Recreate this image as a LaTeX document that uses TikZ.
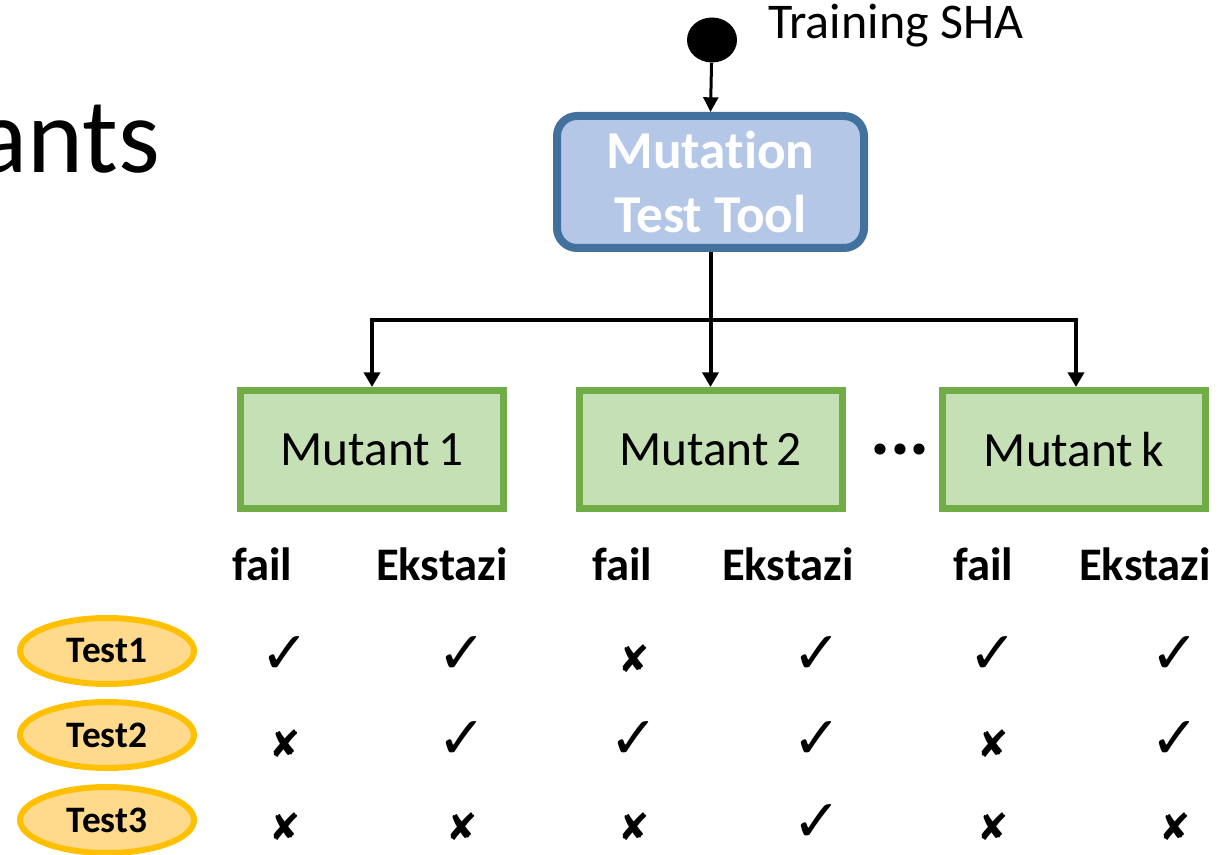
\documentclass[tikz,border=0pt]{standalone}
\usepackage{fontspec}
\setmainfont{Carlito}[Ligatures=NoCommon]
\newfontfamily\symfont{DejaVu Sans}
\usetikzlibrary{arrows.meta,shapes.geometric}

\definecolor{toolfill}{HTML}{B4C7E7}
\definecolor{tooldraw}{HTML}{41719C}
\definecolor{mutfill}{HTML}{C5E0B4}
\definecolor{mutdraw}{HTML}{70AD47}
\definecolor{testfill}{HTML}{FFD98C}
\definecolor{testdraw}{HTML}{FFC000}

\tikzset{
  arr/.style={line width=3pt,-{Triangle[width=12pt,length=11pt]}},
  toolbox/.style={draw=tooldraw,fill=toolfill,line width=6pt,rounded corners=15pt,
    minimum width=307*0.75pt,minimum height=132*0.75pt,align=center,
    font=\fontsize{40}{46}\selectfont\bfseries,text=white},
  mutbox/.style={draw=mutdraw,fill=mutfill,line width=5.25pt,
    minimum width=263*0.75pt,minimum height=118*0.75pt,
    font=\fontsize{37}{44}\selectfont},
  testell/.style={ellipse,draw=testdraw,fill=testfill,line width=4.5pt,
    minimum width=174*0.75pt,minimum height=66*0.75pt,inner sep=0pt,
    font=\fontsize{28}{32}\selectfont\bfseries},
  head/.style={font=\fontsize{35}{40}\selectfont\bfseries},
  yes/.style={font=\symfont\fontsize{44}{46}\selectfont},
  no/.style={font=\symfont\fontsize{28}{30}\selectfont},
}

\begin{document}
\begin{tikzpicture}[x=0.75pt,y=-0.75pt]
\useasboundingbox (0,0) rectangle (1219,855);

% slide title, running off the left edge
\node[anchor=base east,inner sep=0pt,font=\fontsize{80}{90}\selectfont] (title) at (160,173) {ants};

% start point and the tool
\node[ellipse,fill=black,minimum width=50*0.75pt,minimum height=45*0.75pt,inner sep=0pt] (start) at (712,40) {};
\node[anchor=base west,inner sep=0pt,font=\fontsize{37.5}{42}\selectfont] (sha) at (768,39) {Training SHA};
\node[toolbox] (tool) at (710.5,182) {\raisebox{0pt}{Mutation}\\[2pt]Test Tool};
\draw[line width=2.25pt,-{Triangle[width=11pt,length=11pt]}] (start) -- (tool.north);

% mutants
\node[mutbox] (m1) at (372,449.5) {Mutant\,1};
\node[mutbox] (m2) at (710.5,449.5) {Mutant\,2};
\node[mutbox] (mk) at (1074,449.5) {Mutant\,k};
\node[font=\fontsize{56}{58}\selectfont\bfseries] (dots) at (900,450) {...};

\coordinate (split) at (712,320);
\draw[arr] (tool.south) -- (tool.south |- m2.north);
\draw[arr] (split) -| ([xshift=0pt]m1.north);
\draw[arr] (split) -| ([xshift=2*0.75pt]mk.north);

% column heads
\foreach \x/\t [count=\i] in {262/fail,442/Ekstazi,622/fail,788/Ekstazi,983/fail,1145/Ekstazi}
  \node[head,anchor=base] (h\i) at (\x,580) {\t};

% tests
\node[testell] (t1) at (107,651) {Test1};
\node[testell] (t2) at (107,735) {Test2};
\node[testell] (t3) at (107,820) {Test3};

% outcome marks: 1 = check, 0 = cross
\foreach \row/\y in {{1,1,0,1,1,1}/655,{0,1,1,1,0,1}/740,{0,0,0,1,0,0}/823}{
  \foreach \v [count=\c] in \row {
    \pgfmathsetmacro{\xx}{{285,462,634,817,993,1175}[\c-1]}
    \ifnum\v=1
      \node[yes] (r\y c\c) at (\xx,\y) {✓};
    \else
      \node[no] (r\y c\c) at (\xx,\y+4) {✘};
    \fi
  }
}
\end{tikzpicture}
\end{document}
